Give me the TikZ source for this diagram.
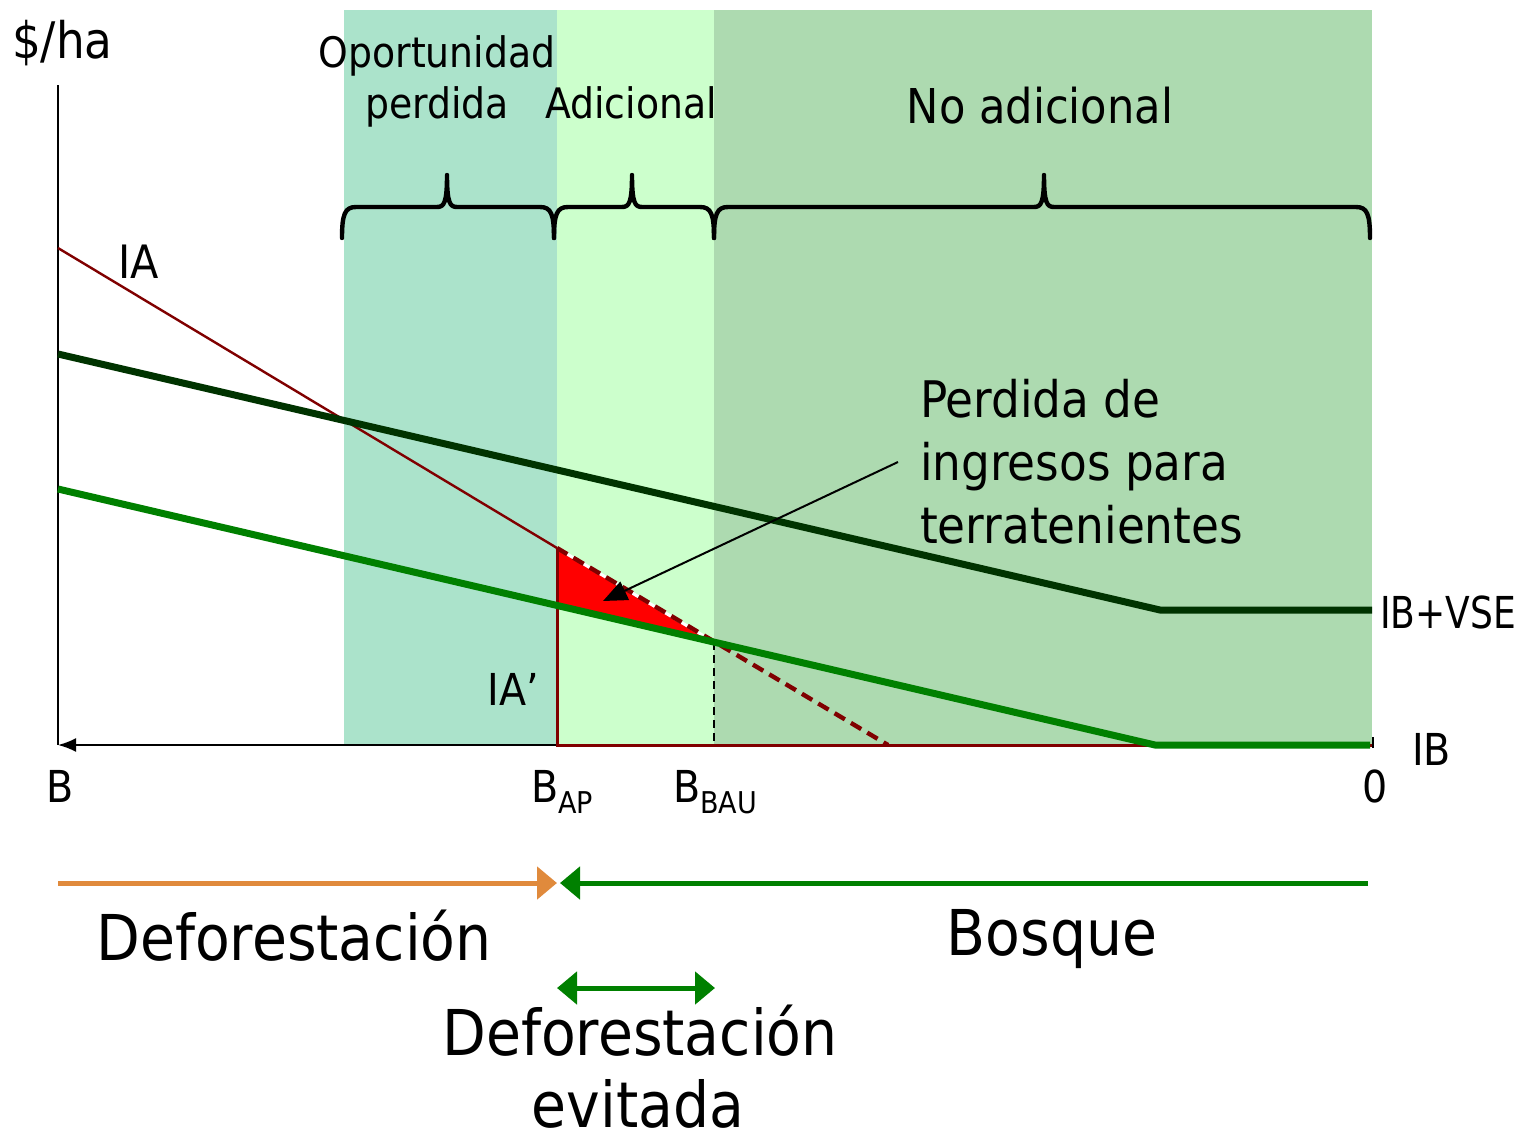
\documentclass[tikz,border=0pt]{standalone}
\usepackage{fontspec}
\setmainfont{DejaVu Sans}[FakeStretch=0.9]
\usetikzlibrary{arrows.meta}
\definecolor{regA}{RGB}{171,227,203}
\definecolor{regB}{RGB}{204,255,204}
\definecolor{regC}{RGB}{173,218,176}
\definecolor{iared}{RGB}{128,0,0}
\definecolor{ibgreen}{RGB}{0,128,0}
\definecolor{vsegreen}{RGB}{0,51,0}
\definecolor{orangeA}{RGB}{224,138,60}
\tikzset{bigtip/.tip={Triangle[length=10pt,width=16pt]}}
\begin{document}
\begin{tikzpicture}[x=0.5pt,y=-0.5pt,
  lbl/.style={inner sep=0pt,outer sep=0pt,anchor=base},
  lblw/.style={inner sep=0pt,outer sep=0pt,anchor=base west},
  fs21/.style={font=\fontsize{21}{25}\selectfont},
  fs22/.style={font=\fontsize{22}{26}\selectfont},
  fs23/.style={font=\fontsize{23}{27}\selectfont},
  fs24/.style={font=\fontsize{24}{28}\selectfont},
  fs25/.style={font=\fontsize{25.2}{29}\selectfont},
  fs31/.style={font=\fontsize{31.6}{36}\selectfont},
  brace/.style={line width=2.2pt,line join=round,line cap=round},
  thicka/.style={line width=2.5pt}]
\useasboundingbox (0,0) rectangle (1524,1135);
% regions
\fill[regA] (344,10) rectangle (557,745);
\fill[regB] (557,10) rectangle (714,745);
\fill[regC] (714,10) rectangle (1372,745);
% braces
\foreach \a/\t/\b in {342/447/554, 554/632/714, 714/1044/1370}{
  \draw[brace] (\a,238) .. controls (\a,214) and (\a+3,207) .. (\a+14,207)
    -- (\t-10,207) .. controls (\t-3,207) and (\t,203) .. (\t,175)
    .. controls (\t,203) and (\t+3,207) .. (\t+10,207)
    -- (\b-14,207) .. controls (\b-3,207) and (\b,214) .. (\b,238);
}
% key points
\coordinate (o) at (58,745);
\coordinate (ytop) at (58,85);
\coordinate (xend) at (1372,745);
\coordinate (iaS) at (58,248);
\coordinate (iaK) at (557,548);
\coordinate (iaE) at (888,745);
\coordinate (apB) at (557,745);
\coordinate (ibS) at (58,489);
\coordinate (ibAP) at (557,605);
\coordinate (ibBAU) at (714,642);
\coordinate (ibK) at (1155,745);
\coordinate (ibE) at (1370,745);
\coordinate (bauB) at (714,745);
\coordinate (vS) at (58,354);
\coordinate (vK) at (1160,610);
\coordinate (vE) at (1372,610);
% axes
\draw[line width=1pt] (ytop) -- (o);
\draw[line width=1pt,-{Latex[length=9pt,width=7pt]}] (xend) -- (o);
\draw[line width=1pt] (1373,737) -- (1373,748);
% IA' horizontal and vertical
\draw[iared,line width=1.5pt] (iaK) -- (apB) -- (xend);
% red triangle
\fill[red] (iaK) -- (ibBAU) -- (ibAP) -- cycle;
\draw[white,line width=1.5pt] (iaK) -- (ibBAU);
% IA
\draw[iared,line width=1.2pt] (iaS) -- (iaK);
\draw[iared,line width=2.2pt,dash pattern=on 6pt off 3.5pt] (iaK) -- (iaE);
\draw[iared,line width=1.5pt] (iaK) -- (apB);
% dashed BAU
\draw[line width=1pt,dash pattern=on 4pt off 2.5pt] (ibBAU) -- (bauB);
% IB
\draw[ibgreen,line width=3.5pt] (ibS) -- (ibK) -- (ibE);
% IB+VSE
\draw[vsegreen,line width=3.5pt] (vS) -- (vK) -- (vE);
% annotation arrow
\coordinate (arrS) at (898,462);
\coordinate (arrE) at (603,601);
\draw[line width=1pt,-{Triangle[length=12pt,width=10pt]}] (arrS) -- (arrE);
% bottom arrows
\coordinate (dS) at (58,883);
\coordinate (dE) at (557,883);
\coordinate (bS) at (1368,883);
\coordinate (bE) at (560,883);
\coordinate (eS) at (557,988);
\coordinate (eE) at (715,988);
\draw[orangeA,thicka,-bigtip] (dS) -- (dE);
\draw[ibgreen,thicka,-bigtip] (bS) -- (bE);
\draw[ibgreen,thicka,bigtip-bigtip] (eS) -- (eE);
% labels
\node[lblw,fs25] (tha) at (12,58) {\$/ha};
\node[lbl,fs21] (top1) at (437,67) {Oportunidad};
\node[lbl,fs21] (top2) at (437,118) {perdida};
\node[lbl,fs21] (tadi) at (631,118) {Adicional};
\node[lbl,fs24] (tnoa) at (1040,123) {No adicional};
\node[lblw,fs23] (tia) at (118,278) {IA};
\node[lblw,fs25] (tp1) at (920,417) {Perdida de};
\node[lblw,fs25] (tp2) at (920,480) {ingresos para};
\node[lblw,fs25] (tp3) at (920,543) {terratenientes};
\node[lblw,fs22] (tvse) at (1380,628) {\scalebox{0.91}[1]{IB+VSE}};
\node[lbl,fs22] (tiap) at (513,705) {IA’};
\node[lblw,fs22] (tib) at (1412,765) {IB};
\node[lbl,fs22] (tb) at (60,802) {B};
\node[lblw,fs22] (tbap) at (531,802) {B\raisebox{-5.5pt}{\fontsize{15}{15}\selectfont AP}};
\node[lblw,fs22] (tbbau) at (673,802) {B\raisebox{-5.5pt}{\fontsize{15}{15}\selectfont BAU}};
\node[lbl,fs22] (tzero) at (1375,802) {0};
\node[lbl,fs31] (tdef) at (294,960) {Deforestación};
\node[lbl,fs31] (tbos) at (1052,955) {Bosque};
\node[lbl,fs31] (tdef2) at (640,1055) {Deforestación};
\node[lbl,fs31] (tevi) at (638,1127) {evitada};
\end{tikzpicture}
\end{document}
